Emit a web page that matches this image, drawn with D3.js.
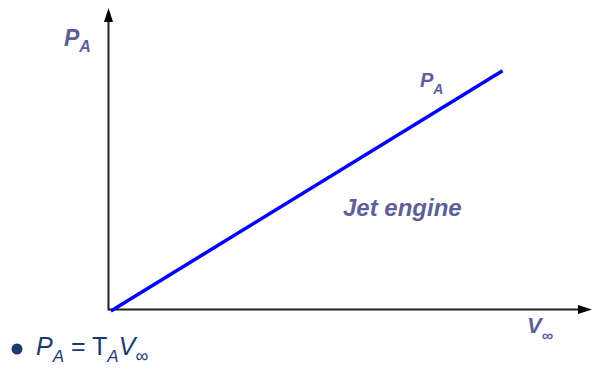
<!DOCTYPE html>
<html><head><meta charset="utf-8">
<script src="https://cdn.jsdelivr.net/npm/d3@7"></script>
<style>body{margin:0;background:#fff}svg{display:block}</style>
</head><body>
<script>
// Data (relative units, 0..100)
const vInf = [0.5, 81.5];
const powerAvail = [-0.5, 79.2];
const xDomain = [0, 100];
const yDomain = [0, 100];

const W = 593, H = 369;
const svg = d3.select("body").append("svg").attr("width", W).attr("height", H);

const x = d3.scaleLinear().domain(xDomain).range([108.5, 592]);
const y = d3.scaleLinear().domain(yDomain).range([309.5, 8]);

const axisColor = "#222";
// axes
svg.append("line").attr("x1", x(0)).attr("y1", y(0)).attr("x2", x(100) - 10).attr("y2", y(0))
  .attr("stroke", axisColor).attr("stroke-width", 2);
svg.append("line").attr("x1", x(0)).attr("y1", y(0) + 1).attr("x2", x(0)).attr("y2", y(100) + 10)
  .attr("stroke", axisColor).attr("stroke-width", 2);
// arrowheads
svg.append("path").attr("d", `M${x(100)},${y(0)} L${x(100)-14},${y(0)-4.5} L${x(100)-14},${y(0)+4.5}Z`).attr("fill", "#000");
svg.append("path").attr("d", `M${x(0)},${y(100)} L${x(0)-4.5},${y(100)+14} L${x(0)+4.5},${y(100)+14}Z`).attr("fill", "#000");

// data line
const pts = vInf.map((v, i) => [v, powerAvail[i]]);
svg.append("path").datum(pts)
  .attr("d", d3.line().x(d => x(d[0])).y(d => y(d[1])))
  .attr("stroke", "#0000ff").attr("stroke-width", 3.5).attr("fill", "none");

const labelColor = "#5f5f98";
const font = "Liberation Sans, Arial, sans-serif";

function subLabel(px, py, main, sub, size, subSize, dy) {
  const t = svg.append("text").attr("x", px).attr("y", py)
    .attr("font-family", font).attr("font-weight", "bold").attr("font-style", "italic")
    .attr("fill", labelColor).attr("font-size", size);
  t.append("tspan").text(main);
  t.append("tspan").attr("font-size", subSize).attr("dy", dy).text(sub);
}
subLabel(64, 46, "P", "A", 23, 16, 6);
subLabel(420, 87, "P", "A", 20, 14, 7);
subLabel(527, 333, "V", "\u221e", 22, 16, 8);

svg.append("text").attr("x", 343).attr("y", 216)
  .attr("font-family", font).attr("font-weight", "bold").attr("font-style", "italic")
  .attr("fill", labelColor).attr("font-size", 24).text("Jet engine");

// formula
const fColor = "#1b3a6c";
svg.append("circle").attr("cx", 17) .attr("cy", 349).attr("r", 5.5).attr("fill", fColor);
const f = svg.append("text").attr("x", 36).attr("y", 355)
  .attr("font-family", font).attr("fill", fColor).attr("font-size", 25);
f.append("tspan").attr("font-style", "italic").text("P");
f.append("tspan").attr("font-style", "italic").attr("font-size", 17).attr("dy", 7).text("A");
f.append("tspan").attr("dy", -7).text(" = T");
f.append("tspan").attr("font-style", "italic").attr("font-size", 17).attr("dy", 7).text("A");
f.append("tspan").attr("font-style", "italic").attr("dy", -7).text("V");
f.append("tspan").attr("font-size", 18).attr("dy", 7).text("\u221e");
</script>
</body></html>
